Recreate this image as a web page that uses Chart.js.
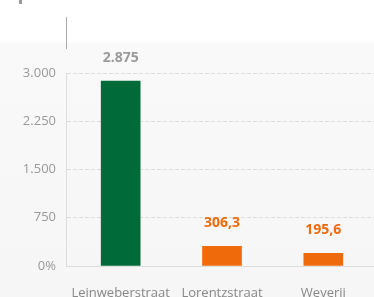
<!DOCTYPE html>
<html>
<head>
<meta charset="utf-8">
<script src="https://cdn.jsdelivr.net/npm/chart.js@4"></script>
<style>
  html, body { margin: 0; padding: 0; }
  body {
    width: 374px; height: 297px; overflow: hidden; position: relative;
    background: linear-gradient(to bottom, #ffffff 0px, #ffffff 40px, #f9f9f9 44px, #f6f6f6 297px);
  }
  #wrap { position: absolute; left: 0; top: 0; width: 374px; height: 297px; }
  .vline { position: absolute; left: 66px; top: 17px; width: 1px; height: 32px; background: #aaaaaa; }
  .mark { position: absolute; left: 19px; top: 0px; width: 3px; height: 4px; background: #999999; }
</style>
</head>
<body>
<div class="mark"></div>
<div class="vline"></div>
<div id="wrap"><canvas id="chart" width="374" height="297"></canvas></div>
<script>
const categories = ['Leinweberstraat', 'Lorentzstraat', 'Weverij'];
const values = [2875, 306.3, 195.6];
const valueLabels = ['2.875', '306,3', '195,6'];
const yTicks = [0, 750, 1500, 2250, 3000];

const barColors = ['#006b38', '#ee6a0b', '#ee6a0b'];
const labelColors = ['#9a9a9a', '#ee6a0b', '#ee6a0b'];

// labels boven de staven
const valueLabelPlugin = {
  id: 'valueLabels',
  afterDatasetsDraw(chart) {
    const ctx = chart.ctx;
    const meta = chart.getDatasetMeta(0);
    ctx.save();
    ctx.font = 'bold 14px "Open Sans", sans-serif';
    ctx.textAlign = 'center';
    ctx.textBaseline = 'middle';
    meta.data.forEach((bar, i) => {
      ctx.fillStyle = labelColors[i];
      ctx.fillText(valueLabels[i], bar.x, bar.y - 23);
    });
    ctx.restore();
  }
};

// categorieen iets naar rechts schuiven, as-lijn blijft staan
const shiftX = {
  id: 'shiftX',
  afterLayout(chart) {
    const s = chart.scales.x;
    s._startPixel = s.left + 4;
    s._length = s._endPixel - s._startPixel;
  }
};

const ctx = document.getElementById('chart').getContext('2d');
new Chart(ctx, {
  type: 'bar',
  data: {
    labels: categories,
    datasets: [{
      data: values,
      backgroundColor: barColors,
      borderWidth: 0,
      barThickness: 39
    }]
  },
  options: {
    responsive: false,
    maintainAspectRatio: false,
    animation: false,
    devicePixelRatio: 1,
    layout: { padding: { top: 73, right: 0, left: 0, bottom: 0 } },
    plugins: {
      legend: { display: false },
      tooltip: { enabled: false },
      title: { display: false }
    },
    scales: {
      x: {
        grid: { display: false },
        border: { display: true, color: '#dddddd' },
        ticks: {
          color: '#888888',
          font: { family: '"Open Sans", sans-serif', size: 13 },
          padding: 11,
          maxRotation: 0,
          autoSkip: false
        },
        afterFit(scale) { scale.height = 31; }
      },
      y: {
        min: 0,
        max: 3000,
        afterBuildTicks(scale) { scale.ticks = yTicks.map(v => ({ value: v })); },
        grid: {
          color: '#dddddd',
          drawTicks: false,
          tickLength: 0
        },
        border: { display: true, color: '#dddddd', dash: [4, 2] },
        ticks: {
          color: '#999999',
          font: { family: '"Open Sans", sans-serif', size: 13 },
          padding: 10,
          autoSkip: false,
          callback: v => v === 0 ? '0%' : v.toLocaleString('nl-NL')
        },
        afterFit(scale) { scale.width = 66; }
      }
    }
  },
  plugins: [valueLabelPlugin, shiftX]
});
</script>
</body>
</html>
